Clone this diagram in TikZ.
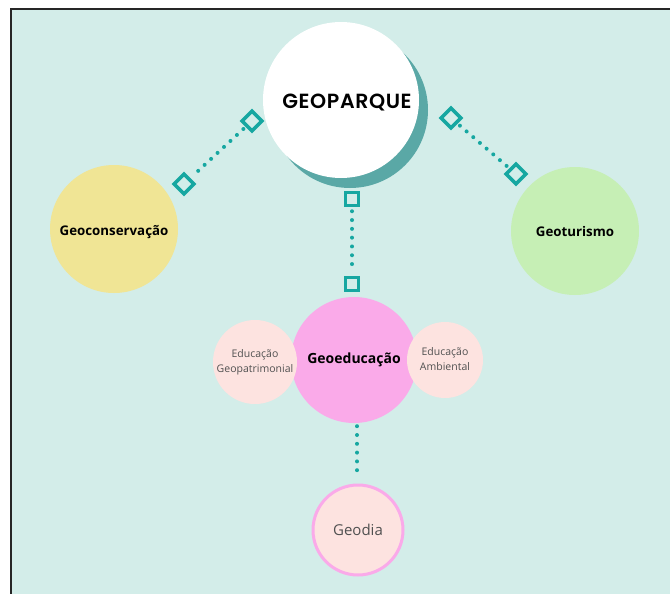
\documentclass[tikz,border=0pt]{standalone}
\usepackage{fontspec}
\setmainfont{Open Sans}
\newfontfamily\pop{Poppins}[BoldFont={* SemiBold}, LetterSpace=3]
\definecolor{panel}{RGB}{211,237,233}
\definecolor{teal}{RGB}{22,167,161}
\definecolor{shadowteal}{RGB}{90,168,166}
\definecolor{yellowc}{RGB}{240,229,149}
\definecolor{greenc}{RGB}{198,239,181}
\definecolor{pinkc}{RGB}{250,170,233}
\definecolor{lightpink}{RGB}{253,227,224}
\definecolor{graytext}{RGB}{80,80,80}
\tikzset{
  bubble/.style={circle, inner sep=0pt, draw=none},
  diamark/.style={draw=teal, line width=3.5pt, rotate=45, minimum size=14pt, inner sep=0pt, fill=none},
  sqmark/.style={draw=teal, line width=3.5pt, minimum size=13pt, inner sep=0pt, fill=none},
  dotline/.style={draw=teal, line width=4pt, line cap=round, dash pattern=on 0pt off 8.8pt},
  boldlab/.style={font=\fontsize{13.3}{15}\selectfont\bfseries, text=black},
  smalllab/.style={font=\fontsize{10.5}{15}\selectfont, text=graytext, align=center}
}
\begin{document}
\begin{tikzpicture}[x=1pt,y=-1pt]
\useasboundingbox (0,0) rectangle (670,594);
\fill[white] (0,0) rectangle (670,594);
\fill[panel] (11,9) rectangle (670,594);
\draw[line width=2pt, black!85] (11,594) -- (11,9) -- (670,9);
% main circle with shadow
\node[bubble, fill=shadowteal, minimum size=156pt] (shadow) at (350,110) {};
\node[bubble, fill=white, minimum size=156pt] (geo) at (341,100) {};
\node[font=\pop\fontsize{20.5}{22}\selectfont\bfseries, text=black] (geolab) at (347,103) {GEOPARQUE};
% side circles
\node[bubble, fill=yellowc, minimum size=128pt] (cons) at (114,229) {};
\node[boldlab] (conslab) at (114,232) {Geoconservação};
\node[bubble, fill=greenc, minimum size=128pt] (tur) at (575,231) {};
\node[boldlab] (turlab) at (575,232) {Geoturismo};
% geoeducacao
\node[bubble, fill=pinkc, minimum size=126pt] (edu) at (354,360) {};
\node[font=\fontsize{14}{16}\selectfont\bfseries, text=black] (edulab) at (354,360) {Geoeducação};
\node[bubble, fill=lightpink, minimum size=84pt, smalllab] (pat) at (255,362) {Educação\\Geopatrimonial};
\node[bubble, fill=lightpink, minimum size=76pt] (amb) at (445,360) {};
\node[smalllab] (amblab) at (445,359) {Educação\\Ambiental};
% geodia
\node[bubble, fill=lightpink, draw=pinkc, line width=3pt, minimum size=90pt, font=\fontsize{15}{17}\selectfont, text=graytext] (dia) at (358,530) {Geodia};
% markers
\node[diamark] (d1) at (252,121) {};
\node[diamark] (d2) at (184,184) {};
\node[diamark] (d3) at (451,118) {};
\node[diamark] (d4) at (516,174) {};
\node[sqmark] (s1) at (352,199) {};
\node[sqmark] (s2) at (352,284) {};
% dotted connectors
\draw[dotline, shorten <=3pt, shorten >=3pt] (d1) -- (d2);
\draw[dotline, shorten <=3pt, shorten >=3pt] (d3) -- (d4);
\draw[dotline, shorten <=4pt, shorten >=4pt] (s1) -- (s2);
\draw[dotline, shorten <=3pt, shorten >=6pt] (edu.south -| 357,0) -- (dia.north -| 357,0);
\end{tikzpicture}
\end{document}
